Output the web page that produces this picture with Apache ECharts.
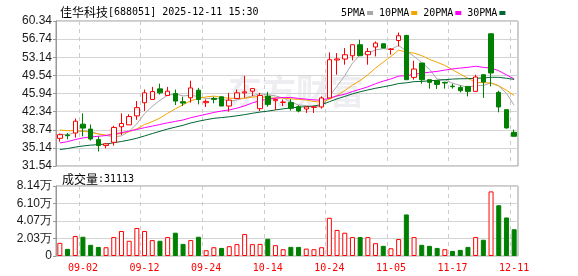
<!DOCTYPE html>
<html>
<head>
<meta charset="utf-8">
<script src="https://cdn.jsdelivr.net/npm/echarts@6/dist/echarts.min.js"></script>
<style>
  html, body { margin: 0; padding: 0; background: #fff; }
  #main { width: 578px; height: 276px; }
</style>
</head>
<body>
<div id="main"></div>
<script>
// trading days shown (labels every 8th bar + last)
var dates = [
  '08-28', '08-29', '09-01', '09-02', '09-03', '09-04', '09-05', '09-08', '09-09', '09-10',
  '09-11', '09-12', '09-15', '09-16', '09-17', '09-18', '09-19', '09-22', '09-23', '09-24',
  '09-25', '09-26', '09-29', '09-30', '10-09', '10-10', '10-13', '10-14', '10-15', '10-16',
  '10-17', '10-20', '10-21', '10-22', '10-23', '10-24', '10-27', '10-28', '10-29', '10-30',
  '10-31', '11-03', '11-04', '11-05', '11-06', '11-07', '11-10', '11-11', '11-12', '11-13',
  '11-14', '11-17', '12-02', '12-03', '12-04', '12-05', '12-08', '12-09', '12-10', '12-11'
]
var labelIdx = [3, 11, 19, 27, 35, 43, 51, 59]

var opens = [
  37.04, 37.69, 38.09, 39.85, 38.87, 36.78, 35.60, 36.25, 39.33, 39.72,
  41.49, 44.11, 44.76, 46.86, 45.55, 45.94, 44.30, 45.09, 46.60, 44.11,
  44.96, 45.29, 43.45, 44.96, 46.07, 46.40, 42.93, 45.42, 44.50, 44.17,
  44.17, 43.33, 42.87, 43.20, 43.27, 45.05, 52.60, 52.79, 53.44, 55.62,
  53.64, 55.17, 55.82, 54.69, 56.47, 57.47, 49.14, 51.99, 48.68, 48.48,
  48.15, 47.40, 47.15, 47.35, 46.36, 49.67, 57.80, 46.16, 42.73, 38.23
]
var closes = [
  37.76, 37.56, 40.44, 39.07, 36.91, 35.60, 35.93, 39.20, 39.98, 41.36,
  43.13, 46.07, 46.33, 46.07, 46.40, 44.43, 44.04, 47.05, 44.76, 44.37,
  44.76, 43.45, 44.63, 46.07, 46.27, 46.92, 45.55, 43.78, 44.76, 44.24,
  43.00, 42.47, 43.27, 43.27, 45.05, 52.65, 52.80, 53.64, 55.62, 53.44,
  54.29, 55.96, 54.97, 54.77, 57.41, 48.68, 50.80, 48.68, 48.15, 47.75,
  48.02, 47.30, 46.50, 46.36, 49.22, 48.22, 50.01, 43.27, 39.10, 37.44
]
var lows = [
  36.38, 36.84, 37.17, 37.43, 36.58, 34.42, 35.07, 35.60, 37.69, 39.72,
  40.70, 42.47, 44.76, 45.74, 45.42, 43.65, 43.45, 44.11, 43.78, 43.26,
  43.98, 43.45, 42.34, 44.96, 45.09, 45.42, 42.47, 43.32, 42.67, 43.45,
  42.54, 42.20, 42.08, 42.08, 42.93, 45.05, 49.67, 51.66, 52.51, 53.44,
  51.66, 53.30, 54.97, 53.64, 55.28, 48.68, 48.68, 47.89, 46.90, 46.84,
  46.90, 46.90, 46.16, 45.37, 46.36, 45.05, 47.35, 42.20, 38.96, 37.44
]
var highs = [
  38.00, 38.09, 40.97, 42.01, 39.79, 37.43, 36.12, 39.53, 42.01, 41.82,
  44.43, 46.73, 47.25, 47.90, 47.25, 46.73, 45.29, 48.49, 47.05, 44.76,
  45.29, 45.29, 46.07, 46.73, 49.47, 46.92, 46.07, 46.27, 44.96, 44.76,
  44.83, 43.60, 43.40, 43.50, 45.37, 54.10, 53.97, 54.97, 55.62, 56.61,
  54.97, 56.28, 55.82, 54.97, 58.06, 57.60, 52.45, 52.00, 48.68, 48.60,
  48.28, 47.89, 47.55, 47.40, 49.67, 49.80, 57.86, 46.50, 42.73, 38.77
]
// closes before the window, needed for the moving averages
var priorCloses = [
  31.6, 31.9, 32.3, 32.0, 32.5, 32.2, 31.8, 32.4, 32.6, 32.6,
  32.4, 32.1, 32.6, 32.9, 33.1, 33.0, 33.4, 34.2, 35.3, 36.6,
  38.9, 40.2, 39.8, 39.5, 38.95, 38.4, 38.0, 37.6, 37.69
]
var volumes = [
  15300, 8300, 23200, 22400, 13000, 10600, 10200, 22000, 29100, 17700,
  32600, 29100, 18500, 17700, 22000, 27100, 14100, 18500, 22400, 6700,
  10200, 9400, 11400, 13800, 25500, 13800, 14100, 20000, 12600, 7900,
  10600, 10600, 8600, 7900, 10200, 44400, 30300, 27100, 22000, 22000,
  22000, 14900, 11800, 9000, 19700, 48300, 22000, 13000, 11800, 9400,
  7900, 5900, 7100, 10600, 22000, 18900, 75100, 59000, 44800, 31113
]
var priceMin = 31.54
var priceMax = 60.34
var priceStep = 3.6
var volMax = 81400
var volStep = 20350
var maDays = [5, 10, 20, 30]
var maColors = ['#a8a8a8', '#f5a400', '#ff00ff', '#006633']

var RED = '#ff0000'
var GREEN = '#008000'
var FONT = '"Liberation Sans", Arial, sans-serif'
var MONO = '"DejaVu Sans Mono", monospace'
var CJK = '"Noto Sans CJK SC", sans-serif'

function calcMA(n) {
  var all = priorCloses.concat(closes)
  var off = priorCloses.length
  return closes.map(function(c, i) {
    var sum = 0
    for (var k = 0; k < n; k++) sum += all[off + i - k]
    return +(sum / n).toFixed(3)
  })
}

var candles = dates.map(function(d, i) {
  return [opens[i], closes[i], lows[i], highs[i]]
})

var volData = volumes.map(function(v, i) {
  var prev = i === 0 ? priorCloses[priorCloses.length - 1] : closes[i - 1]
  var up = closes[i] > opens[i] || closes[i] > prev
  return {
    value: v,
    itemStyle: up
      ? { color: '#fff', borderColor: RED, borderWidth: 1 }
      : { color: GREEN, borderColor: GREEN, borderWidth: 1 }
  }
})

function showIdx(index) {
  return labelIdx.indexOf(index) >= 0
}

var maSeries = maDays.map(function(n, k) {
  return {
    name: n + 'PMA',
    type: 'line',
    xAxisIndex: 0,
    yAxisIndex: 0,
    data: calcMA(n),
    symbol: 'none',
    smooth: false,
    z: 3,
    lineStyle: { width: 1, color: maColors[k] },
    itemStyle: { color: maColors[k] }
  }
})

var myChart = echarts.init(document.getElementById('main'), null, { renderer: 'canvas' })

myChart.setOption({
  animation: false,
  backgroundColor: '#fff',
  title: [
    {
      left: 55,
      top: 1,
      text: '{a|佳华科技}{b|[688051] 2025-12-11 15:30}',
      textStyle: {
        rich: {
          a: { fontFamily: CJK, fontSize: 12, fontWeight: 'normal', color: '#000' },
          b: { fontFamily: MONO, fontSize: 10, fontWeight: 'normal', color: '#000' }
        }
      }
    },
    {
      left: 57,
      top: 168,
      text: '{a|成交量}{b|:31113}',
      textStyle: {
        rich: {
          a: { fontFamily: CJK, fontSize: 12, fontWeight: 'normal', color: '#000' },
          b: { fontFamily: MONO, fontSize: 10, fontWeight: 'normal', color: '#000' }
        }
      }
    }
  ],
  legend: {
    data: maDays.map(function(n) { return n + 'PMA' }),
    left: 336,
    top: 3,
    align: 'right',
    icon: 'rect',
    itemWidth: 6,
    itemHeight: 4,
    itemGap: 6,
    textStyle: { fontFamily: MONO, fontSize: 10, color: '#000', padding: [0, -3, 0, 0] }
  },
  graphic: [
    {
      type: 'text',
      left: 228,
      top: 74,
      z: 0,
      silent: true,
      style: {
        text: '东方财富',
        fontFamily: CJK,
        fontSize: 34,
        fontWeight: 'bold',
        fill: '#eeeef2'
      }
    }
  ],
  grid: [
    { left: 56, top: 21, width: 462, height: 145, show: true, borderColor: '#999', borderWidth: 1 },
    { left: 56, top: 186, width: 462, height: 70, show: true, borderColor: '#999', borderWidth: 1 }
  ],
  xAxis: [
    {
      type: 'category',
      gridIndex: 0,
      data: dates,
      boundaryGap: true,
      axisLine: { show: false },
      axisTick: { show: false },
      axisLabel: { show: false },
      splitLine: { show: true, interval: showIdx, lineStyle: { color: '#ccc', type: [4, 4] } }
    },
    {
      type: 'category',
      gridIndex: 1,
      data: dates,
      boundaryGap: true,
      axisLine: { show: false },
      axisTick: { show: false },
      axisLabel: {
        interval: showIdx,
        color: RED,
        fontFamily: MONO,
        fontSize: 10,
        margin: 7
      },
      splitLine: { show: true, interval: showIdx, lineStyle: { color: '#ccc', type: [4, 4] } }
    }
  ],
  yAxis: [
    {
      type: 'value',
      gridIndex: 0,
      min: priceMin,
      max: priceMax,
      interval: priceStep,
      axisLine: { show: true, lineStyle: { color: '#999' } },
      axisTick: { show: true, length: 3, lineStyle: { color: '#999' } },
      axisLabel: {
        margin: 4,
        color: '#1a1a1a',
        fontFamily: FONT,
        fontSize: 12,
        formatter: function(v) { return v.toFixed(2) }
      },
      splitLine: { show: true, lineStyle: { color: '#d4d4d4' } }
    },
    {
      type: 'value',
      gridIndex: 1,
      min: 0,
      max: volMax,
      interval: volStep,
      axisLine: { show: true, lineStyle: { color: '#999' } },
      axisTick: { show: true, length: 3, lineStyle: { color: '#999' } },
      axisLabel: {
        margin: 4,
        color: '#1a1a1a',
        fontFamily: FONT,
        fontSize: 12,
        formatter: function(v) {
          if (v === 0) return '0'
          return (Math.floor(v / 100) / 100).toFixed(2) + '万'
        }
      },
      splitLine: { show: true, lineStyle: { color: '#d4d4d4' } }
    }
  ],
  series: [
    {
      name: 'K',
      type: 'candlestick',
      xAxisIndex: 0,
      yAxisIndex: 0,
      data: candles,
      barWidth: 5,
      z: 4,
      itemStyle: {
        color: '#fff',
        color0: GREEN,
        borderColor: RED,
        borderColor0: GREEN,
        borderWidth: 1
      }
    }
  ].concat(maSeries).concat([
    {
      name: '成交量',
      type: 'bar',
      xAxisIndex: 1,
      yAxisIndex: 1,
      data: volData,
      barWidth: 5
    }
  ])
})
</script>
</body>
</html>
